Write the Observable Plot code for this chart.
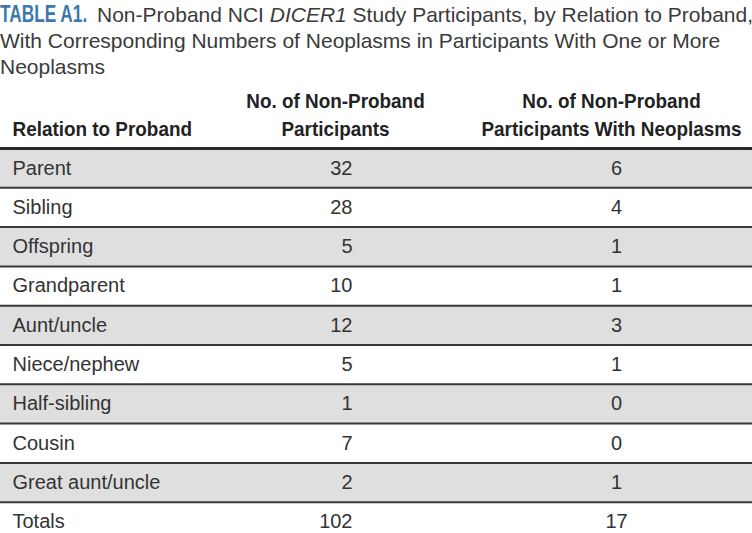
<!DOCTYPE html>
<html><head><meta charset="utf-8">
<script src="https://cdn.jsdelivr.net/npm/d3@7"></script>
<script src="https://cdn.jsdelivr.net/npm/@observablehq/plot@0.6"></script>
<style>
body{margin:0;background:#fff;width:752px;height:533px;overflow:hidden}
#title{font-family:"Liberation Sans",sans-serif;font-size:21px;line-height:26px;color:#3a3a3a;white-space:nowrap;height:84px;padding-top:2px;box-sizing:border-box}
#title .l1{position:relative;padding-left:97px}
#title .lab{position:absolute;left:0;top:-1px;font-weight:bold;font-size:23px;color:#3d77ad;display:inline-block;transform:scaleX(0.75);transform-origin:0 50%}
</style></head><body>
<div id="title"></div>
<div id="chart"></div>
<script>
const titleLabel = "TABLE A1.";
const titleLine1 = ["Non-Proband NCI ", "DICER1", " Study Participants, by Relation to Proband,"];
const titleLine2 = "With Corresponding Numbers of Neoplasms in Participants With One or More";
const titleLine3 = "Neoplasms";
const headers = ["Relation to Proband", "No. of Non-Proband\nParticipants", "No. of Non-Proband\nParticipants With Neoplasms"];
const columns = ["relation", "participants", "neoplasms"];
const relations = ["Parent", "Sibling", "Offspring", "Grandparent", "Aunt/uncle", "Niece/nephew", "Half-sibling", "Cousin", "Great aunt/uncle", "Totals"];
const participants = [32, 28, 5, 10, 12, 5, 1, 7, 2, 102];
const withNeoplasms = [6, 4, 1, 1, 3, 1, 0, 0, 1, 17];

// Title
const t = document.getElementById("title");
const l1 = document.createElement("div"); l1.className = "l1";
const lab = document.createElement("span"); lab.className = "lab"; lab.textContent = titleLabel; l1.appendChild(lab);
l1.appendChild(document.createTextNode(titleLine1[0]));
const it = document.createElement("i"); it.textContent = titleLine1[1]; l1.appendChild(it);
l1.appendChild(document.createTextNode(titleLine1[2]));
t.appendChild(l1);
for (const s of [titleLine2, titleLine3]) { const d = document.createElement("div"); d.textContent = s; t.appendChild(d); }

const table = relations.map((r, i) => ({i, relation: r, participants: participants[i], neoplasms: withNeoplasms[i]}));
const shaded = table.filter(d => d.i % 2 === 0 && d.relation !== "Totals");
const rowH = 39.3, headTop = 64;
const col = name => columns.indexOf(name);
const headStyle = {frameAnchor: "top", lineAnchor: "bottom", dy: -13, fontWeight: "bold", fontSize: 21, lineHeight: 1.33, fill: "#222"};

const chart = Plot.plot({
  width: 752, height: 449,
  marginTop: headTop, marginLeft: 0, marginRight: 0, marginBottom: 0,
  x: {type: "linear", domain: [0, 1, 2], range: [12, 352, 616], axis: null},
  y: {domain: [0, relations.length], range: [headTop, headTop + rowH * relations.length], axis: null},
  style: {fontFamily: "'Liberation Sans',sans-serif", fontSize: "20px", color: "#333", background: "transparent", overflow: "visible"},
  marks: [
    Plot.rect(shaded, {y1: "i", y2: d => d.i + 1, fill: "#e0dfe0"}),
    Plot.ruleY(d3.range(1, relations.length), {stroke: "#383838", strokeWidth: 2}),
    Plot.ruleY([0], {stroke: "#2a2a2a", strokeWidth: 3}),
    Plot.text(table, {x: () => col("relation"), y: d => d.i + 0.5, text: "relation", textAnchor: "start", fill: "#333"}),
    Plot.text(table, {x: () => col("participants"), y: d => d.i + 0.5, text: d => String(d.participants), textAnchor: "end", fill: "#333"}),
    Plot.text(table, {x: () => col("neoplasms"), y: d => d.i + 0.5, text: d => String(d.neoplasms), textAnchor: "middle", fill: "#333"}),
    Plot.text([headers[0]], {...headStyle, x: () => col("relation"), textAnchor: "start"}),
    Plot.text([headers[1]], {...headStyle, x: () => col("participants"), dx: -17, textAnchor: "middle"}),
    Plot.text([headers[2]], {...headStyle, x: () => col("neoplasms"), dx: -5, textAnchor: "middle"})
  ]
});
document.getElementById("chart").appendChild(chart);
// condense bold header lettering (the original uses a condensed face)
const headerKeys = headers.map(h => h.replace(/\n/g, ""));
chart.querySelectorAll("text").forEach(el => {
  const k = headerKeys.indexOf(el.textContent.replace(/\n/g, ""));
  if (k < 0) return;
  const g = document.createElementNS("http://www.w3.org/2000/svg", "g");
  el.parentNode.insertBefore(g, el);
  g.appendChild(el);
  g.style.transformBox = "fill-box";
  g.style.transformOrigin = k === 0 ? "left center" : "center center";
  g.style.transform = "scaleX(0.9)";
});
</script>
</body></html>
